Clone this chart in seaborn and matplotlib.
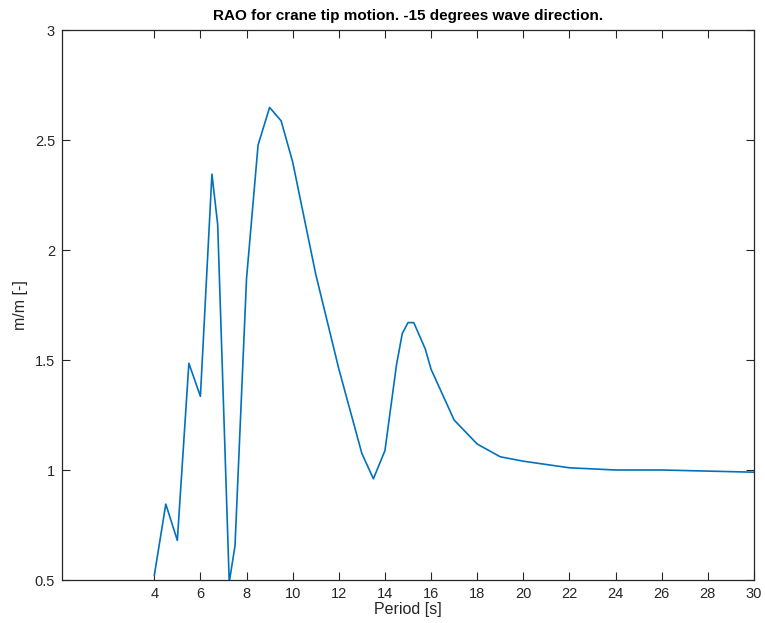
import matplotlib
matplotlib.use("Agg")
import matplotlib.pyplot as plt
import seaborn as sns
import pandas as pd

# Crane tip RAO, -15 deg heading
period = [4, 4.5, 5, 5.5, 6, 6.5, 6.75, 7.25, 7.5, 8, 8.5, 9, 9.5, 10, 11, 12, 13,
          13.5, 14, 14.5, 14.75, 15, 15.25, 15.75, 16, 17, 18, 19, 20, 22, 24, 26, 28, 30]
rao = [0.52, 0.845, 0.68, 1.485, 1.335, 2.345, 2.115, 0.49, 0.655, 1.87, 2.477, 2.648, 2.587, 2.40,
       1.89, 1.46, 1.075, 0.96, 1.088, 1.477, 1.62, 1.67, 1.67, 1.55, 1.458, 1.227, 1.118, 1.06,
       1.04, 1.01, 1.0, 1.0, 0.995, 0.99]

xticks = list(range(4, 31, 2))
yticks = [0.5, 1, 1.5, 2, 2.5, 3]
ytick_labels = ["0.5", "1", "1.5", "2", "2.5", "3"]

sns.set_style("ticks")
plt.rcParams["font.family"] = ["Liberation Sans", "DejaVu Sans"]

df = pd.DataFrame({"Period": period, "RAO": rao})

fig = plt.figure(figsize=(7.65, 6.23), dpi=100)
ax = fig.add_axes([62 / 765, 1 - 580 / 623, (754 - 62) / 765, (580 - 30) / 623])

sns.lineplot(data=df, x="Period", y="RAO", ax=ax, color="#0072BD", linewidth=1.2,
             sort=False, estimator=None)

ax.set_xlim(0, 30)
ax.set_ylim(0.5, 3)
ax.set_xticks(xticks)
ax.set_xticklabels([str(t) for t in xticks])
ax.set_yticks(yticks)
ax.set_yticklabels(ytick_labels)

for side in ["top", "right", "bottom", "left"]:
    ax.spines[side].set_visible(True)
    ax.spines[side].set_color("#262626")
    ax.spines[side].set_linewidth(0.9)

ax.tick_params(axis="both", direction="in", length=5.5, width=0.8, color="#262626",
               labelsize=10.5, labelcolor="#262626", top=True, right=True, pad=5)

ax.set_xlabel("Period [s]", fontsize=11.5, color="#262626", labelpad=1)
ax.set_ylabel("m/m [-]", fontsize=11.5, color="#262626", labelpad=5)
ax.set_title("RAO for crane tip motion. -15 degrees wave direction.", fontsize=11,
             fontweight="bold", color="black", pad=7)

fig.savefig("out.png", dpi=100)
